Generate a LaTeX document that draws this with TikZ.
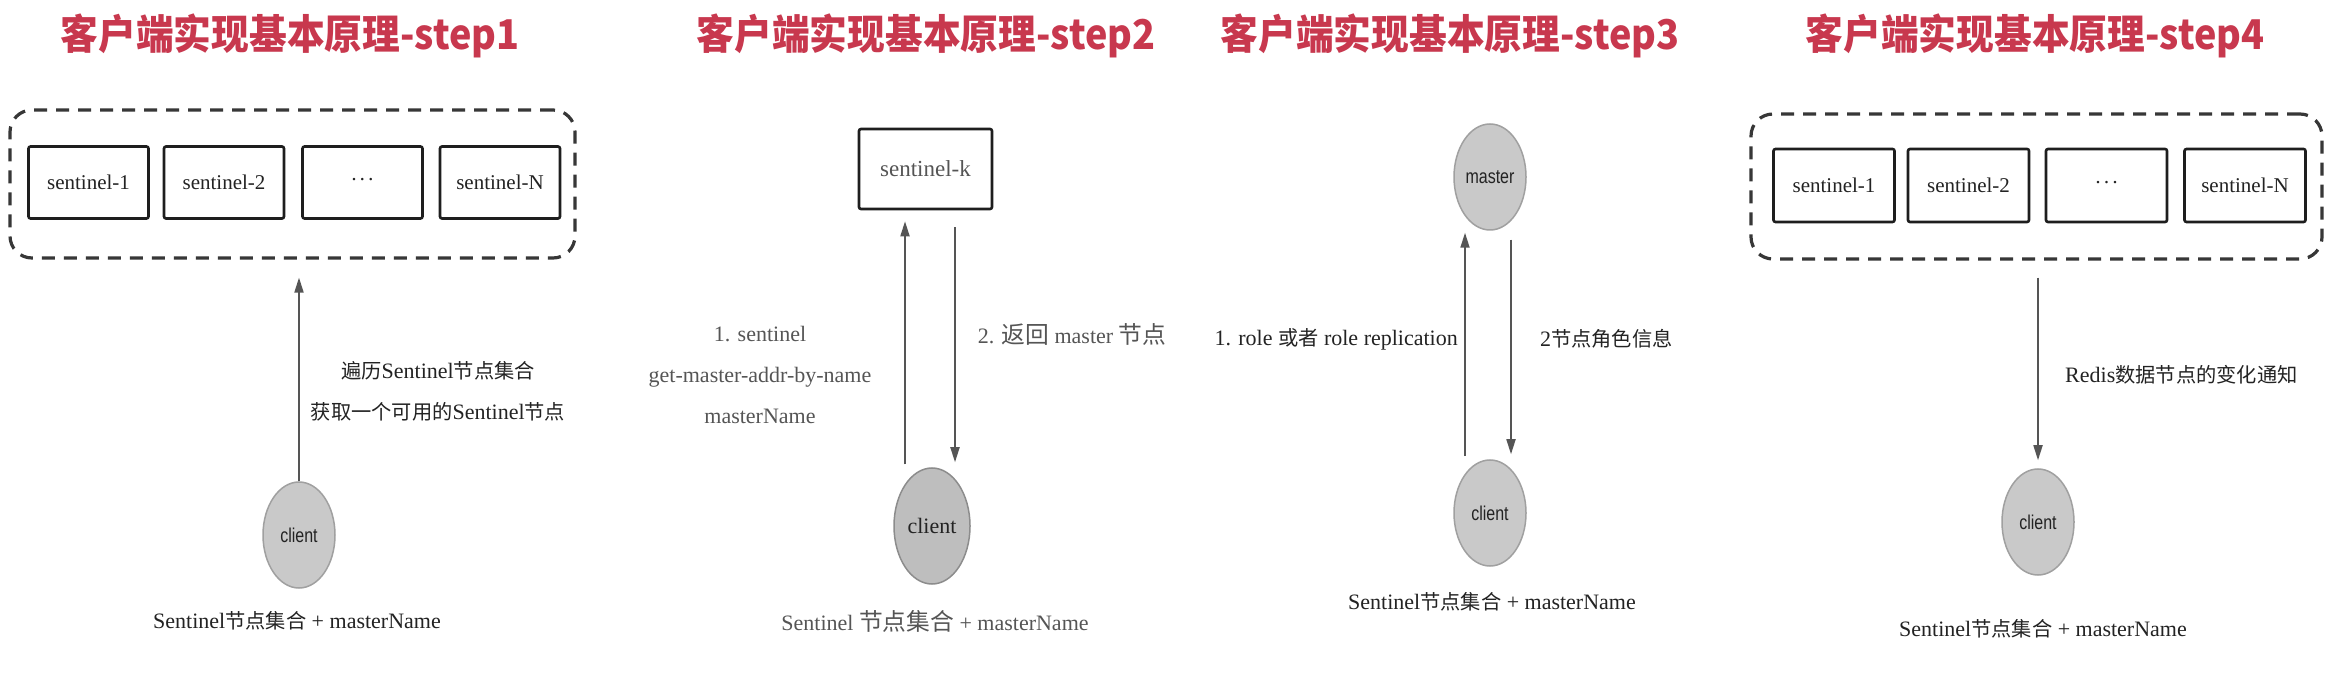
\documentclass[tikz,border=0pt]{standalone}
\usepackage{fontspec}
\usepackage{graphicx}
\setmainfont{Liberation Serif}
\newfontfamily\cjk{Noto Sans CJK SC}[Scale=0.92]
\newfontfamily\cjkbig{Noto Sans CJK SC}[Scale=1.08]
\newfontfamily\cjktitle{Noto Sans CJK SC}
\newfontfamily\hv{Liberation Sans}
\usetikzlibrary{arrows.meta,calc,shapes.geometric}
\definecolor{titlered}{RGB}{200,56,78}
\definecolor{boxline}{RGB}{30,30,30}
\definecolor{grpline}{RGB}{55,55,55}
\definecolor{cfill}{RGB}{201,201,201}
\definecolor{cdraw}{RGB}{160,160,160}
\definecolor{cfillb}{RGB}{190,190,190}
\definecolor{cdrawb}{RGB}{140,140,140}
\definecolor{txtdark}{RGB}{35,35,35}
\definecolor{txtgrey}{RGB}{85,85,85}
\definecolor{arrcol}{RGB}{85,85,85}
\newcommand\zh[1]{{\cjk #1}}
\newcommand\zhb[1]{{\cjkbig #1}}
\newcommand\sq[1]{\scalebox{0.8}[1]{#1}}
\begin{document}
\begin{tikzpicture}[x=1pt,y=1pt,
  ttl/.style={anchor=base, inner sep=0pt, text=titlered, font=\cjktitle\bfseries\fontsize{41}{41}\selectfont},
  grp/.style={draw=grpline, line width=3.2pt, dash pattern=on 13pt off 9pt, rounded corners=22pt},
  sbox/.style={draw=boxline, line width=2.6pt, rounded corners=2pt, minimum width=120pt, minimum height=72pt, inner sep=0pt, text=txtdark, font=\fontsize{21}{21}\selectfont},
  cli/.style={ellipse, fill=cfill, draw=cdraw, line width=1.5pt, minimum width=72pt, minimum height=106pt, inner sep=0pt, text=txtdark, font=\hv\fontsize{20}{20}\selectfont},
  clib/.style={ellipse, fill=cfillb, draw=cdrawb, line width=1.5pt, minimum width=76pt, minimum height=116pt, inner sep=0pt, text=txtdark, font=\fontsize{22}{22}\selectfont},
  lab/.style={inner sep=0pt, text=txtdark, font=\fontsize{22}{41}\selectfont},
  labg/.style={inner sep=0pt, text=txtgrey, font=\fontsize{22}{41}\selectfont},
  arr/.style={draw=arrcol, line width=1.8pt, -{Triangle[length=15pt,width=9pt]}}
]
\useasboundingbox (0,0) rectangle (2337,678);
\fill[white] (0,0) rectangle (2337,678);

% ---------- step 1 ----------
\node[ttl] (t1) at (290,628) {\scalebox{0.92}[1]{客户端实现基本原理-step1}};
\node[grp, minimum width=565pt, minimum height=148pt] (g1) at (292.5,494) {};
\node[sbox] (s11) at (88.5,495.5) {sentinel-1};
\node[sbox] (s12) at (224,495.5) {sentinel-2};
\node[sbox] (s13) at (362.5,495.5) {·\hspace{1.5pt}·\hspace{1.5pt}·};
\node[sbox] (s14) at (500,495.5) {sentinel-N};
\node[cli] (c1) at (299,143) {\sq{client}};
\draw[arr, shorten >=18pt] (c1.north) -- (c1.north |- g1.south);
\node[lab, align=center] (l1) at (438,286.5) {\zh{遍历}Sentinel\zh{节点集合}\\\zh{获取一个可用的}Sentinel\zh{节点}};
\node[lab] (b1) at (297,57) {Sentinel\zh{节点集合} + masterName};

% ---------- step 2 ----------
\node[ttl] (t2) at (926,628) {\scalebox{0.92}[1]{客户端实现基本原理-step2}};
\node[sbox, minimum width=133pt, minimum height=80pt, text=txtgrey, font=\fontsize{23}{23}\selectfont] (sk) at (925.5,509) {sentinel-k};
\node[clib] (c2) at (932,152) {client};
\draw[arr] ($(c2.north)+(-27,3)$) -- ($(c2.north |- sk.south)+(-27,-11)$);
\draw[arr] ($(c2.north |- sk.south)+(23,-17)$) -- ($(c2.north)+(23,5)$);
\node[labg, align=center] (l2) at (760,303) {1. sentinel\\get-master-addr-by-name\\masterName};
\node[labg] (r2) at (1072,344) {2. \zhb{返回} master \zhb{节点}};
\node[labg] (b2) at (935,57) {Sentinel \zhb{节点集合} + masterName};

% ---------- step 3 ----------
\node[ttl] (t3) at (1450,628) {\scalebox{0.92}[1]{客户端实现基本原理-step3}};
\node[cli] (m3) at (1490,501) {\sq{master}};
\node[cli] (c3) at (1490,165) {\sq{client}};
\draw[arr] ($(c3.north)+(-25,3)$) -- ($(c3.north |- m3.south)+(-25,-2)$);
\draw[arr] ($(c3.north |- m3.south)+(21,-9)$) -- ($(c3.north)+(21,5)$);
\node[lab, anchor=east] (l3) at (1458,339) {1. role \zh{或者} role replication};
\node[lab, anchor=west] (r3) at (1540,339) {2\zh{节点角色信息}};
\node[lab] (b3) at (1492,76) {Sentinel\zh{节点集合} + masterName};

% ---------- step 4 ----------
\node[ttl] (t4) at (2035,628) {\scalebox{0.92}[1]{客户端实现基本原理-step4}};
\node[grp, minimum width=571pt, minimum height=145pt] (g4) at (2036.5,491.5) {};
\node[sbox, minimum width=121pt, minimum height=73pt] (s41) at (1834,492.5) {sentinel-1};
\node[sbox, minimum width=121pt, minimum height=73pt] (s42) at (1968.5,492.5) {sentinel-2};
\node[sbox, minimum width=121pt, minimum height=73pt] (s43) at (2106.5,492.5) {·\hspace{1.5pt}·\hspace{1.5pt}·};
\node[sbox, minimum width=121pt, minimum height=73pt] (s44) at (2245,492.5) {sentinel-N};
\node[cli] (c4) at (2038,156) {\sq{client}};
\draw[arr] ($(c4.north |- g4.south)+(0,-17)$) -- ($(c4.north)+(0,8)$);
\node[lab, anchor=west] (l4) at (2065,303) {Redis\zh{数据节点的变化通知}};
\node[lab] (b4) at (2043,49) {Sentinel\zh{节点集合} + masterName};
\end{tikzpicture}
\end{document}
